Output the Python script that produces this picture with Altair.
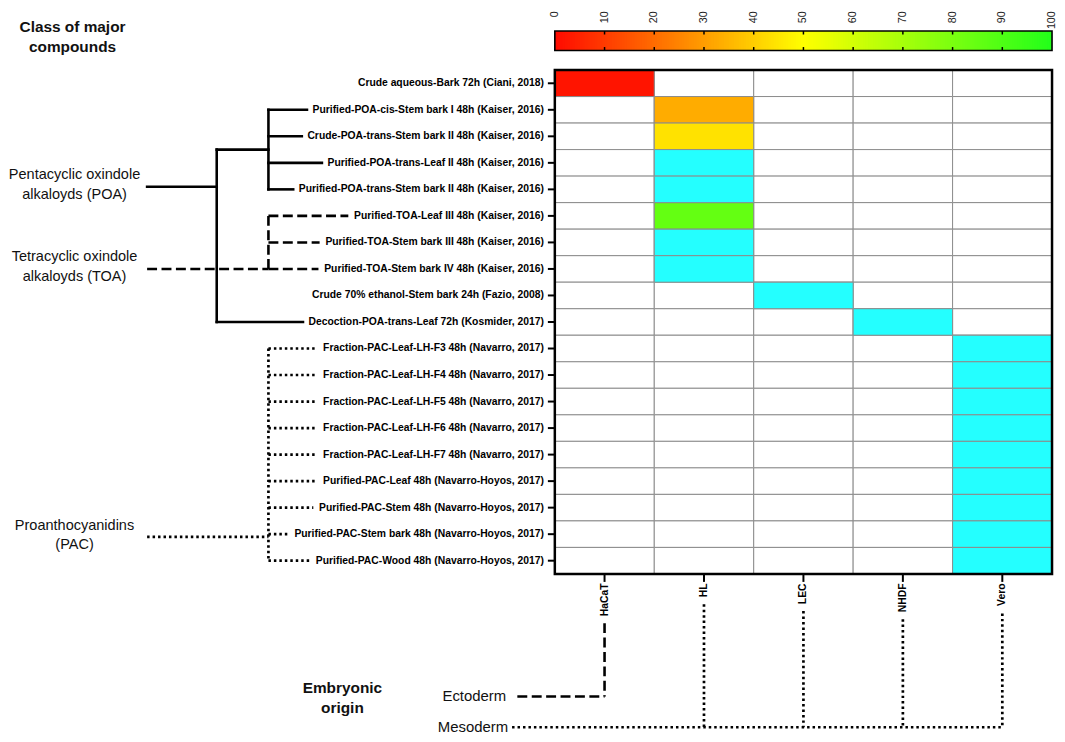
import altair as alt
import pandas as pd

# ---------------- data ----------------
samples = [
    "Crude aqueous-Bark 72h (Ciani, 2018)",
    "Purified-POA-cis-Stem bark I 48h (Kaiser, 2016)",
    "Crude-POA-trans-Stem bark II 48h (Kaiser, 2016)",
    "Purified-POA-trans-Leaf II 48h (Kaiser, 2016)",
    "Purified-POA-trans-Stem bark II 48h (Kaiser, 2016)",
    "Purified-TOA-Leaf III 48h (Kaiser, 2016)",
    "Purified-TOA-Stem bark III 48h (Kaiser, 2016)",
    "Purified-TOA-Stem bark IV 48h (Kaiser, 2016)",
    "Crude 70% ethanol-Stem bark 24h (Fazio, 2008)",
    "Decoction-POA-trans-Leaf 72h (Kosmider, 2017)",
    "Fraction-PAC-Leaf-LH-F3 48h (Navarro, 2017)",
    "Fraction-PAC-Leaf-LH-F4 48h (Navarro, 2017)",
    "Fraction-PAC-Leaf-LH-F5 48h (Navarro, 2017)",
    "Fraction-PAC-Leaf-LH-F6 48h (Navarro, 2017)",
    "Fraction-PAC-Leaf-LH-F7 48h (Navarro, 2017)",
    "Purified-PAC-Leaf 48h (Navarro-Hoyos, 2017)",
    "Purified-PAC-Stem 48h (Navarro-Hoyos, 2017)",
    "Purified-PAC-Stem bark 48h (Navarro-Hoyos, 2017)",
    "Purified-PAC-Wood 48h (Navarro-Hoyos, 2017)",
]
cell_lines = ["HaCaT", "HL", "LEC", "NHDF", "Vero"]
tested_cell = ["HaCaT", "HL", "HL", "HL", "HL", "HL", "HL", "HL", "LEC", "NHDF",
               "Vero", "Vero", "Vero", "Vero", "Vero", "Vero", "Vero", "Vero", "Vero"]
# None = cyan cell (outside the 0-100 colour scale)
tested_value = [2, 33, 44, None, None, 85, None, None, None, None,
                None, None, None, None, None, None, None, None, None]
colorbar_ticks = [0, 10, 20, 30, 40, 50, 60, 70, 80, 90, 100]

class_labels = ["Pentacyclic oxindole\nalkaloyds (POA)",
                "Tetracyclic oxindole\nalkaloyds (TOA)",
                "Proanthocyanidins\n(PAC)"]
class_styles = ["solid", "dashed", "dotted"]
poa_cluster = [1, 2, 3, 4]
poa_single = [9]
toa_cluster = [5, 6, 7]
pac_cluster = [10, 11, 12, 13, 14, 15, 16, 17, 18]

origin_labels = ["Ectoderm", "Mesoderm"]
origin_cells = [["HaCaT"], ["HL", "LEC", "NHDF", "Vero"]]
origin_styles = ["dashed", "dotted"]

# ---------------- layout ----------------
W, H = 1048, 724
XD = [-5.469, 5.0]      # x in column units
YD = [-2.247, 24.869]   # y in row units
PX_X = W / (XD[1] - XD[0])
PX_Y = H / (YD[1] - YD[0])
FONT = "Liberation Sans"
LAB_SIZE = 10.4
LINE_H = 20

HB = {}
for chars, w in [(" ", 278), ("!", 333), ("%", 889), ("(", 333), (")", 333), (",", 278),
                 ("-", 333), (".", 278), ("0123456789", 556), ("ABCDHKNRU", 722),
                 ("EPSVXY", 667), ("FLTZ", 611), ("GOQ", 778), ("I", 278), ("J", 556),
                 ("M", 833), ("W", 944), ("acekvxy", 556), ("bdghnopqu", 611),
                 ("ft", 333), ("ijl", 278), ("m", 889), ("r", 389), ("w", 778), ("z", 500)]:
    for c in chars:
        HB[c] = w


def text_px(s, size):
    return sum(HB.get(c, 556) for c in s) / 1000.0 * size


def first_line(center, label):
    # anchor of the first line so that the text block is centred on `center`
    n = label.count("\n") + 1
    return center - (n - 1) / 2 * LINE_H / PX_Y


ROW_LABEL_X = -0.11
LEAF_GAP = 5 / PX_X
LV0, LV1, LV2 = -4.1, -3.40, -2.88
COL_LABEL_Y = 19.36
CB_TOP, CB_BOT = -1.47, -0.735
CB_LABEL_Y = YD[0] + 0.03


def leaf_end(r):
    return ROW_LABEL_X - text_px(samples[r], LAB_SIZE) / PX_X - LEAF_GAP


def mid(r):
    return r + 0.5


# ---------------- tables ----------------
cells = []
for i, s in enumerate(samples):
    for j, c in enumerate(cell_lines):
        st = "blank"
        val = None
        if tested_cell[i] == c:
            if tested_value[i] is None:
                st = "out"
            else:
                st = "value"
                val = tested_value[i]
        cells.append(dict(sample=s, cell=c, x=j, x2=j + 1, y=i, y2=i + 1, status=st, value=val))
cells = pd.DataFrame(cells)

rows_df = pd.DataFrame(dict(label=samples, x=ROW_LABEL_X, tx=-7 / PX_X, tx2=0.0,
                            y=[mid(i) for i in range(len(samples))]))
cols_df = pd.DataFrame(dict(label=cell_lines, x=[j + 0.5 for j in range(len(cell_lines))],
                            y=COL_LABEL_Y, ty=len(samples), ty2=len(samples) + 8 / PX_Y))

segs = []


def seg(x, x2, y, y2, style):
    segs.append(dict(x=x, x2=x2, y=y, y2=y2, style=style))


POA_Y, TOA_Y, PAC_Y = 4.4, mid(toa_cluster[-1]), 17.6
# POA
poa_mid = (mid(poa_cluster[0]) + mid(poa_cluster[-1])) / 2
seg(LV0, LV1, POA_Y, POA_Y, "solid")
seg(LV1, LV1, poa_mid, mid(poa_single[0]), "solid")
seg(LV1, LV2, poa_mid, poa_mid, "solid")
seg(LV2, LV2, mid(poa_cluster[0]), mid(poa_cluster[-1]), "solid")
for r in poa_cluster:
    seg(LV2, leaf_end(r), mid(r), mid(r), "solid")
for r in poa_single:
    seg(LV1, leaf_end(r), mid(r), mid(r), "solid")
# TOA
seg(LV0, LV2, TOA_Y, TOA_Y, "dashed")
seg(LV2, LV2, mid(toa_cluster[0]), mid(toa_cluster[-1]), "dashed")
for r in toa_cluster:
    seg(LV2, leaf_end(r), mid(r), mid(r), "dashed")
# PAC
seg(LV0, LV2, PAC_Y, PAC_Y, "dotted")
seg(LV2, LV2, mid(pac_cluster[0]), mid(pac_cluster[-1]), "dotted")
for r in pac_cluster:
    seg(LV2, leaf_end(r), mid(r), mid(r), "dotted")

# embryonic origin tree
origin_y = [23.62, 24.78]
origin_hx = [-0.377, -0.43]
origin_tx = [-0.489, -0.469]
for k, lab in enumerate(origin_labels):
    xs = [cell_lines.index(c) + 0.5 for c in origin_cells[k]]
    seg(origin_hx[k], max(xs), origin_y[k], origin_y[k], origin_styles[k])
    for c, xc in zip(origin_cells[k], xs):
        y0 = COL_LABEL_Y + (text_px(c, LAB_SIZE) + 7) / PX_Y
        seg(xc, xc, y0, origin_y[k], origin_styles[k])
segs = pd.DataFrame(segs)

class_centres = [4.35, 7.43, 17.55]
class_df = pd.DataFrame(dict(label=class_labels, x=-4.83,
                             y=[first_line(c, l) for c, l in zip(class_centres, class_labels)]))
origin_df = pd.DataFrame(dict(label=origin_labels, x=origin_tx, y=origin_y))
title_labels = ["Class of major\ncompounds", "Embryonic\norigin"]
title_centres = [-1.236, 23.68]
titles_df = pd.DataFrame(dict(label=title_labels, x=[-4.85, -2.136],
                              y=[first_line(c, l) for c, l in zip(title_centres, title_labels)]))

scale_w = len(cell_lines) / 100.0
step = 0.5
cb_vals = [k * step for k in range(int(100 / step))]
cb_df = pd.DataFrame(dict(value=[v + step / 2 for v in cb_vals],
                          x=[v * scale_w for v in cb_vals],
                          x2=[min(100, v + step * 1.6) * scale_w for v in cb_vals],
                          y=CB_TOP, y2=CB_BOT))
cb_border = pd.DataFrame(dict(x=[0.0], x2=[100 * scale_w], y=[CB_TOP], y2=[CB_BOT]))
cbt = []
for v in colorbar_ticks[1:-1]:
    cbt.append(dict(x=v * scale_w, y=CB_TOP, y2=CB_TOP + 3.5 / PX_Y))
    cbt.append(dict(x=v * scale_w, y=CB_BOT - 3.5 / PX_Y, y2=CB_BOT))
cbt = pd.DataFrame(cbt)
cbl = pd.DataFrame(dict(label=[str(v) for v in colorbar_ticks],
                        x=[v * scale_w for v in colorbar_ticks], y=CB_LABEL_Y))

# ---------------- encodings ----------------
xs_ = alt.Scale(domain=XD, nice=False, zero=False)
ys_ = alt.Scale(domain=YD, nice=False, zero=False, reverse=True)


def X(f="x"):
    return alt.X(f, type="quantitative", scale=xs_, axis=None)


def Y(f="y"):
    return alt.Y(f, type="quantitative", scale=ys_, axis=None)


color_scale = alt.Scale(domain=[0, 50, 100], range=["#ff0a00", "#ffff00", "#22ff1a"],
                        interpolate="rgb")
GRID = "#8c8c8c"

base_cells = alt.Chart(cells).mark_rect(fill="white", stroke=GRID, strokeWidth=1).encode(
    x=X(), x2="x2", y=Y(), y2="y2")
val_cells = alt.Chart(cells).transform_filter("datum.status == 'value'").mark_rect(
    stroke=GRID, strokeWidth=1).encode(
    x=X(), x2="x2", y=Y(), y2="y2",
    color=alt.Color("value:Q", scale=color_scale, legend=None))
out_cells = alt.Chart(cells).transform_filter("datum.status == 'out'").mark_rect(
    fill="#24ffff", stroke=GRID, strokeWidth=1).encode(x=X(), x2="x2", y=Y(), y2="y2")
border = alt.Chart(pd.DataFrame(dict(x=[0], x2=[len(cell_lines)], y=[0], y2=[len(samples)]))
                   ).mark_rect(fillOpacity=0, stroke="black", strokeWidth=2.5).encode(
    x=X(), x2="x2", y=Y(), y2="y2")

row_ticks = alt.Chart(rows_df).mark_rule(color="black", strokeWidth=2).encode(
    x=X("tx"), x2="tx2", y=Y())
row_labels = alt.Chart(rows_df).mark_text(align="right", baseline="middle", font=FONT,
                                          fontSize=LAB_SIZE, fontWeight="bold",
                                          color="black").encode(x=X(), y=Y(), text="label")
col_ticks = alt.Chart(cols_df).mark_rule(color="black", strokeWidth=2).encode(
    x=X(), y=Y("ty"), y2="ty2")
col_labels = alt.Chart(cols_df).mark_text(align="right", baseline="middle", angle=270,
                                          font=FONT, fontSize=LAB_SIZE, fontWeight="bold",
                                          color="black").encode(x=X(), y=Y(), text="label")

solid = alt.Chart(segs).transform_filter("datum.style == 'solid'").mark_rule(
    color="black", strokeWidth=2.6, strokeCap="square").encode(x=X(), x2="x2", y=Y(), y2="y2")
dashed = alt.Chart(segs).transform_filter("datum.style == 'dashed'").mark_rule(
    color="black", strokeWidth=2.6, strokeDash=[10, 4.5]).encode(x=X(), x2="x2", y=Y(), y2="y2")
dotted = alt.Chart(segs).transform_filter("datum.style == 'dotted'").mark_rule(
    color="black", strokeWidth=2.7, strokeDash=[2.5, 3]).encode(x=X(), x2="x2", y=Y(), y2="y2")

class_text = alt.Chart(class_df).mark_text(align="center", baseline="middle", font=FONT,
                                           fontSize=14.6, lineHeight=LINE_H, lineBreak="\n",
                                           color="#111").encode(x=X(), y=Y(), text="label")
origin_text = alt.Chart(origin_df).mark_text(align="right", baseline="middle", font=FONT,
                                             fontSize=15, color="#111").encode(
    x=X(), y=Y(), text="label")
titles = alt.Chart(titles_df).mark_text(align="center", baseline="middle", font=FONT,
                                        fontSize=15.5, fontWeight="bold", lineHeight=LINE_H,
                                        lineBreak="\n", color="#111").encode(
    x=X(), y=Y(), text="label")

cb_rects = alt.Chart(cb_df).mark_rect().encode(
    x=X(), x2="x2", y=Y(), y2="y2",
    color=alt.Color("value:Q", scale=color_scale, legend=None))
cb_frame = alt.Chart(cb_border).mark_rect(fillOpacity=0, stroke="black", strokeWidth=1.6).encode(
    x=X(), x2="x2", y=Y(), y2="y2")
cb_ticks = alt.Chart(cbt).mark_rule(color="black", strokeWidth=1.5).encode(
    x=X(), y=Y(), y2="y2")
cb_labels = alt.Chart(cbl).mark_text(align="right", baseline="middle", angle=270, font=FONT,
                                     fontSize=10.8, color="#222").encode(
    x=X(), y=Y(), text="label")

chart = alt.layer(
    base_cells, val_cells, out_cells, border,
    row_ticks, row_labels, col_ticks, col_labels,
    solid, dashed, dotted,
    class_text, origin_text, titles,
    cb_rects, cb_frame, cb_ticks, cb_labels,
).properties(width=W, height=H, padding=0, background="white").configure_view(strokeWidth=0)

chart.save("out.html", embed_options={"renderer": "svg", "actions": False})
